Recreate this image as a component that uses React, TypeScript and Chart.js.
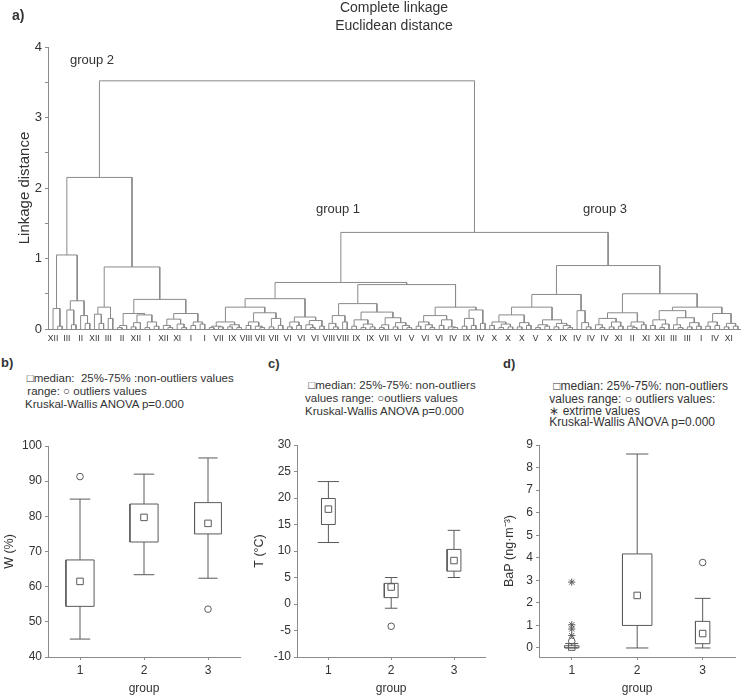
import React, { useEffect, useRef } from 'react';
import { Chart, registerables } from 'chart.js';

Chart.register(...registerables);

const FONT = '"Liberation Sans", Arial, Helvetica, sans-serif';
const TEXT = '#333333';
const AXIS = '#8c8c8c';
const TREE = '#8a8a8a';
const BOX = '#5a5a5a';

// ---------- a) dendrogram data ----------
// tree nodes: [linkage distance, left, right]; 0 = one observation (leaf)
const group2Tree: any = [2.15,
  [1.05,
    [0.29, 0, [0.04, 0, 0]],
    [0.4, [0.27, 0, [0.06, 0, 0]], [0.19, 0, [0.08, 0, 0]]]],
  [0.88,
    [0.31, [0.21, 0, [0.08, 0, 0]], [0.15, 0, 0]],
    [0.42,
      [0.22, [0.05, [0.02, 0, 0], 0], [0.2, [0.09, [0.03, 0, 0], 0], [0.1, [0.02, 0, 0], [0.04, 0, 0]]]],
      [0.22, [0.14, [0.05, 0, [0.02, 0, 0]], [0.07, 0, [0.02, 0, 0]]], [0.1, [0.05, 0, 0], [0.07, 0, 0]]]]]];

const group1Tree: any = [0.66,
  [0.43,
    [0.31,
      [0.1, [0.04, [0.02, 0, 0], [0.03, 0, 0]], [0.06, [0.03, 0, 0], [0.02, 0, 0]]],
      [0.23, [0.1, [0.05, 0, 0], [0.04, 0, [0.02, 0, 0]]], [0.15, [0.03, 0, 0], [0.05, 0, 0]]]],
    [0.17, [0.1, [0.03, 0, 0], [0.05, 0, 0]], [0.12, [0.06, 0, [0.02, 0, 0]], [0.04, 0, 0]]]],
  [0.63,
    [0.36,
      [0.19, [0.08, 0, [0.03, 0, 0]], [0.1, 0, 0]],
      [0.24,
        [0.13, [0.04, 0, 0], [0.07, [0.02, 0, 0], [0.03, 0, 0]]],
        [0.16, [0.06, [0.02, 0, 0], 0], [0.09, [0.03, 0, 0], [0.05, 0, [0.02, 0, 0]]]]]],
    [0.31,
      [0.19, [0.1, [0.04, 0, 0], [0.06, 0, [0.02, 0, 0]]], [0.13, [0.05, 0, 0], [0.03, 0, [0.02, 0, 0]]]],
      [0.27, [0.15, [0.04, 0, 0], [0.05, 0, 0]], [0.08, 0, 0]]]]];

const group3Tree: any = [0.9,
  [0.49,
    [0.31,
      [0.2, [0.1, [0.05, 0, 0], [0.07, [0.02, 0, 0], [0.03, 0, 0]]], [0.09, [0.03, 0, 0], [0.05, 0, 0]]],
      [0.13, [0.06, [0.02, 0, 0], [0.04, 0, 0]], [0.08, [0.03, 0, 0], [0.05, 0, [0.02, 0, 0]]]]],
    [0.26, 0, [0.09, 0, [0.03, 0, 0]]]],
  [0.5,
    [0.23, [0.15, [0.06, 0, [0.02, 0, 0]], [0.1, [0.03, 0, 0], [0.04, 0, 0]]], [0.1, [0.04, 0, [0.02, 0, 0]], [0.06, 0, 0]]],
    [0.31,
      [0.26, [0.13, [0.05, 0, 0], [0.07, [0.02, 0, 0], 0]], [0.16, [0.06, 0, [0.02, 0, 0]], [0.09, [0.03, 0, 0], [0.04, 0, 0]]]],
      [0.22, [0.1, [0.04, 0, 0], [0.05, 0, 0]], [0.08, [0.03, 0, 0], [0.04, 0, 0]]]]]];

const groups13Height = 1.37;
const rootHeight = 3.52;

// labels shown under every third observation
const leafLabels = ['XII', 'III', 'II', 'XII', 'III', 'II', 'XII', 'I', 'XII', 'XI', 'I', 'I',
  'VII', 'IX', 'VIII', 'VII', 'VII', 'VI', 'VI', 'VI', 'VIII', 'VIII', 'IX', 'IX', 'VII', 'VI', 'V', 'VI', 'VI', 'IV', 'IX', 'IV',
  'X', 'X', 'X', 'V', 'X', 'IX', 'IV', 'IV', 'IV', 'XI', 'II', 'XI', 'XII', 'III', 'III', 'I', 'IV', 'XI'];
const labelEvery = 3;
const linkageTicks = [0, 0.5, 1, 1.5, 2, 2.5, 3, 3.5, 4];

// ---------- b) W (%) ----------
const groupTicks = [1, 2, 3];
const wMin = [45.1, 63.4, 62.4];
const wQ1 = [54.4, 72.7, 75.0];
const wMedian = [61.5, 79.7, 78.0];
const wQ3 = [67.6, 83.5, 83.9];
const wMax = [84.9, 92.0, 96.6];
const wOutlierGroup = [1, 3];
const wOutlierValue = [91.3, 53.6];
const wTicks = [40, 50, 60, 70, 80, 90, 100];

// ---------- c) T (°C) ----------
const tMin = [11.6, -0.8, 5.0];
const tQ1 = [15.0, 1.2, 6.2];
const tMedian = [17.9, 3.2, 8.2];
const tQ3 = [19.9, 3.9, 10.3];
const tMax = [23.1, 5.0, 13.9];
const tOutlierGroup = [2];
const tOutlierValue = [-4.2];
const tTicks = [-10, -5, 0, 5, 10, 15, 20, 25, 30];

// ---------- d) BaP ----------
const bMin = [0.0, 0.0, 0.0];
const bQ1 = [0.01, 1.0, 0.19];
const bMedian = [0.04, 2.33, 0.64];
const bQ3 = [0.1, 4.17, 1.18];
const bMax = [0.2, 8.6, 2.2];
const bOutlierGroup = [1, 3];
const bOutlierValue = [0.3, 3.79];
const bExtremeGroup = [1, 1, 1, 1];
const bExtremeValue = [2.92, 1.03, 0.84, 0.55];
const bTicks = [0, 1, 2, 3, 4, 5, 6, 7, 8, 9];

// ---------- dendrogram construction ----------
function buildDendrogram() {
  const segments: { x: number; y: number }[][] = [];
  let leaf = 0;
  const walk = (node: any): { x: number; h: number } => {
    if (!Array.isArray(node)) {
      const x = leaf;
      leaf += 1;
      return { x, h: 0 };
    }
    const [h, l, r] = node;
    const a = walk(l);
    const b = walk(r);
    segments.push([{ x: a.x, y: a.h }, { x: a.x, y: h }, { x: b.x, y: h }, { x: b.x, y: b.h }]);
    return { x: (a.x + b.x) / 2, h };
  };
  walk([rootHeight, group2Tree, [groups13Height, group1Tree, group3Tree]]);
  return { segments, leafCount: leaf };
}

function dendroConfig(): any {
  const { segments, leafCount } = buildDendrogram();
  const datasets = segments.map((pts) => ({
    data: pts,
    showLine: true,
    borderColor: TREE,
    borderWidth: 1,
    pointRadius: 0,
    fill: false,
    tension: 0,
  }));
  return {
    type: 'scatter',
    data: { datasets },
    options: {
      animation: false,
      responsive: false,
      events: [],
      layout: { padding: { top: 47, right: 1, left: 0, bottom: 0 } },
      plugins: { legend: { display: false }, tooltip: { enabled: false } },
      scales: {
        x: {
          type: 'linear',
          min: -1.1,
          max: leafCount - 1 + 0.45,
          afterBuildTicks: (s: any) => { s.ticks = leafLabels.map((_, k) => ({ value: k * labelEvery })); },
          afterFit: (s: any) => { s.height = 23; },
          grid: { display: false, drawTicks: false },
          border: { display: true, color: AXIS },
          ticks: {
            autoSkip: false, maxRotation: 0, minRotation: 0, padding: 5,
            font: { size: 8.5, family: FONT }, color: TEXT,
            callback: (_v: any, i: number) => leafLabels[i],
          },
        },
        y: {
          min: 0,
          max: 4,
          afterBuildTicks: (s: any) => { s.ticks = linkageTicks.map((v) => ({ value: v })); },
          afterFit: (s: any) => { s.width = 48; },
          ticks: {
            padding: 3, font: { size: 13, family: FONT }, color: TEXT,
            callback: (v: any) => (Number.isInteger(v) ? String(v) : ''),
          },
          grid: { drawOnChartArea: false, tickLength: 3, color: AXIS },
          border: { color: AXIS },
          title: { display: true, text: 'Linkage distance', font: { size: 15, family: FONT }, color: TEXT, padding: { top: 16, bottom: 0 } },
        },
      },
    },
  };
}

// ---------- box plot construction ----------
type BoxStyle = { half: number[]; cap: number[] };

function boxConfig(p: {
  min: number[]; q1: number[]; med: number[]; q3: number[]; max: number[];
  outG: number[]; outV: number[]; extG?: number[]; extV?: number[];
  yMin: number; yMax: number; ticks: number[]; yTitle: string;
  style: BoxStyle; padTop: number; padRight: number; axisWidth: number;
}): any {
  const line = (pts: { x: number; y: number }[]) => ({
    data: pts, showLine: true, borderColor: BOX, borderWidth: 1, pointRadius: 0, fill: false, tension: 0,
  });
  const datasets: any[] = [];
  groupTicks.forEach((g, i) => {
    const w = p.style.half[i];
    const c = p.style.cap[i];
    datasets.push(line([{ x: g, y: p.min[i] }, { x: g, y: p.q1[i] }]));
    datasets.push(line([{ x: g, y: p.q3[i] }, { x: g, y: p.max[i] }]));
    datasets.push(line([{ x: g - c, y: p.min[i] }, { x: g + c, y: p.min[i] }]));
    datasets.push(line([{ x: g - c, y: p.max[i] }, { x: g + c, y: p.max[i] }]));
    datasets.push(line([
      { x: g - w, y: p.q1[i] }, { x: g + w, y: p.q1[i] }, { x: g + w, y: p.q3[i] },
      { x: g - w, y: p.q3[i] }, { x: g - w, y: p.q1[i] },
    ]));
  });
  datasets.push({
    data: groupTicks.map((g, i) => ({ x: g, y: p.med[i] })),
    pointStyle: 'rect', pointRadius: 4.6, borderColor: BOX, backgroundColor: '#ffffff', borderWidth: 1,
  });
  datasets.push({
    data: p.outG.map((g, i) => ({ x: g, y: p.outV[i] })),
    pointStyle: 'circle', pointRadius: 3.3, borderColor: BOX, backgroundColor: '#ffffff', borderWidth: 1,
  });
  if (p.extG && p.extV) {
    const ev = p.extV;
    datasets.push({
      data: p.extG.map((g, i) => ({ x: g, y: ev[i] })),
      pointStyle: 'star', pointRadius: 3.6, borderColor: BOX, backgroundColor: '#ffffff', borderWidth: 1,
    });
  }
  return {
    type: 'scatter',
    data: { datasets },
    options: {
      animation: false,
      responsive: false,
      events: [],
      layout: { padding: { top: p.padTop, right: p.padRight, left: 0, bottom: 0 } },
      plugins: { legend: { display: false }, tooltip: { enabled: false } },
      scales: {
        x: {
          type: 'linear', min: 0.5, max: 3.5,
          afterBuildTicks: (s: any) => { s.ticks = groupTicks.map((v) => ({ value: v })); },
          afterFit: (s: any) => { s.height = 40; },
          ticks: { padding: 3, font: { size: 12, family: FONT }, color: TEXT, callback: (v: any) => String(v) },
          grid: { drawOnChartArea: false, tickLength: 3, color: AXIS },
          border: { color: AXIS },
          title: { display: true, text: 'group', font: { size: 12, family: FONT }, color: TEXT, padding: { top: 0, bottom: 1 } },
        },
        y: {
          min: p.yMin, max: p.yMax,
          afterBuildTicks: (s: any) => { s.ticks = p.ticks.map((v) => ({ value: v })); },
          afterFit: (s: any) => { s.width = p.axisWidth; },
          ticks: { padding: 3, font: { size: 12, family: FONT }, color: TEXT },
          grid: { drawOnChartArea: false, tickLength: 3, color: AXIS },
          border: { color: AXIS },
          title: { display: true, text: p.yTitle, font: { size: 12.5, family: FONT }, color: TEXT, padding: { top: 2.5, bottom: 0 } },
        },
      },
    },
  };
}

function ChartCanvas(props: { make: () => any; left: number; top: number; width: number; height: number }) {
  const ref = useRef<HTMLCanvasElement>(null);
  useEffect(() => {
    const chart = new Chart(ref.current as HTMLCanvasElement, props.make());
    return () => chart.destroy();
  }, []);
  return (
    <canvas
      ref={ref}
      width={props.width}
      height={props.height}
      style={{ position: 'absolute', left: props.left, top: props.top, width: props.width, height: props.height }}
    />
  );
}

function Txt(props: { left: number; top: number; size: number; bold?: boolean; children: any; center?: number }) {
  const style: any = {
    position: 'absolute', top: props.top, fontSize: props.size, lineHeight: 1.2,
    fontWeight: props.bold ? 'bold' : 'normal', whiteSpace: 'pre', color: TEXT,
  };
  if (props.center !== undefined) {
    style.left = props.center - 150;
    style.width = 300;
    style.textAlign = 'center';
  } else {
    style.left = props.left;
  }
  return <div style={style}>{props.children}</div>;
}

export default function App() {
  Chart.defaults.font.family = FONT;
  return (
    <div style={{ position: 'absolute', left: 0, top: 0, width: 741, height: 697, background: '#fff', fontFamily: FONT, overflow: 'hidden' }}>
      <ChartCanvas make={dendroConfig} left={0} top={0} width={741} height={352} />
      <ChartCanvas
        make={() => boxConfig({
          min: wMin, q1: wQ1, med: wMedian, q3: wQ3, max: wMax, outG: wOutlierGroup, outV: wOutlierValue,
          yMin: 40, yMax: 100, ticks: wTicks, yTitle: 'W (%)',
          style: { half: [0.22, 0.22, 0.21], cap: [0.16, 0.16, 0.15] }, padTop: 16, padRight: 10, axisWidth: 48,
        })}
        left={0} top={430} width={250} height={267}
      />
      <ChartCanvas
        make={() => boxConfig({
          min: tMin, q1: tQ1, med: tMedian, q3: tQ3, max: tMax, outG: tOutlierGroup, outV: tOutlierValue,
          yMin: -10, yMax: 30, ticks: tTicks, yTitle: 'T (°C)',
          style: { half: [0.11, 0.11, 0.11], cap: [0.17, 0.1, 0.1] }, padTop: 15, padRight: 0.5, axisWidth: 47,
        })}
        left={250} top={430} width={241} height={267}
      />
      <ChartCanvas
        make={() => boxConfig({
          min: bMin, q1: bQ1, med: bMedian, q3: bQ3, max: bMax, outG: bOutlierGroup, outV: bOutlierValue,
          extG: bExtremeGroup, extV: bExtremeValue,
          yMin: -0.4, yMax: 9, ticks: bTicks, yTitle: 'BaP (ng·m⁻³)',
          style: { half: [0.11, 0.225, 0.11], cap: [0.1, 0.17, 0.12] }, padTop: 15, padRight: 2, axisWidth: 39,
        })}
        left={500} top={430} width={241} height={267}
      />

      <Txt left={12} top={7.4} size={14} bold>a)</Txt>
      <Txt left={0} center={394} top={-0.6} size={14}>Complete linkage</Txt>
      <Txt left={0} center={394} top={17.4} size={14}>Euclidean distance</Txt>
      <Txt left={70} top={52.2} size={13}>group 2</Txt>
      <Txt left={316} top={201} size={13}>group 1</Txt>
      <Txt left={583} top={200.7} size={13}>group 3</Txt>

      <Txt left={1} top={355} size={13} bold>b)</Txt>
      <Txt left={26.7} top={372.2} size={11.5}>□median:  25%-75% :non-outliers values</Txt>
      <Txt left={27.3} top={385.2} size={11.5}>range: ○ outliers values</Txt>
      <Txt left={25} top={397.7} size={11.5}>Kruskal-Wallis ANOVA p=0.000</Txt>

      <Txt left={268} top={356} size={13} bold>c)</Txt>
      <Txt left={308.3} top={379.2} size={11.5}>□median: 25%-75%: non-outliers</Txt>
      <Txt left={305} top={392.2} size={11.5}>values range: ○outliers values</Txt>
      <Txt left={305} top={405.2} size={11.5}>Kruskal-Wallis ANOVA p=0.000</Txt>

      <Txt left={503} top={355.5} size={13} bold>d)</Txt>
      <Txt left={553.3} top={379} size={12}>□median: 25%-75%: non-outliers</Txt>
      <Txt left={549.3} top={392} size={12}>values range: ○ outliers values:</Txt>
      <Txt left={549.3} top={403.5} size={12}>∗ extrime values</Txt>
      <Txt left={549.3} top={415} size={12}>Kruskal-Wallis ANOVA p=0.000</Txt>
    </div>
  );
}
